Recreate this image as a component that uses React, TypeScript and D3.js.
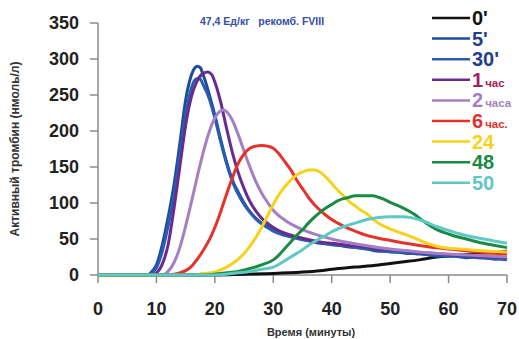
import { useEffect, useRef } from "react";
import * as d3 from "d3";

// [minute, nmol/l]
const s0 = [[0, 0], [20, 0], [25, 1], [30, 2], [35, 4], [38, 6], [40, 8], [44, 11], [48, 14], [50, 16], [52, 18], [55, 21], [58, 25], [61, 27], [64, 29], [67, 31], [70, 33]];
const s5 = [[0, 0], [8.5, 0], [9, 3], [10, 14], [11, 42], [12, 80], [13, 125], [14, 182], [15, 243], [16, 278], [16.5, 287], [17, 290], [17.5, 288], [18, 278], [19, 252], [20, 222], [21, 188], [22, 157], [23, 132], [24, 115], [25, 100], [26, 88], [27, 79], [28, 72], [29, 67], [30, 62], [32, 56], [35, 50], [38, 44], [40, 43], [43, 39], [45, 38], [48, 33], [50, 33], [53, 30], [55, 30], [58, 26], [60, 27], [63, 24], [65, 25], [68, 22], [70, 24]];
const s30 = [[0, 0], [8.7, 0], [9, 2], [10, 10], [11, 33], [12, 68], [13, 110], [14, 165], [15, 223], [16, 260], [16.5, 270], [17, 273], [17.5, 272], [18, 264], [19, 246], [20, 218], [21, 185], [22, 155], [23, 130], [24, 112], [25, 98], [26, 87], [27, 78], [28, 71], [29, 66], [30, 61], [32, 55], [35, 49], [38, 45], [40, 42], [43, 40], [45, 37], [48, 35], [50, 32], [53, 31], [55, 29], [58, 28], [60, 26], [63, 26], [65, 24], [68, 23], [70, 21]];
const s1h = [[0, 0], [9, 0], [10, 3], [11, 15], [12, 42], [13, 92], [14, 150], [15, 208], [16, 248], [17, 270], [18, 280], [18.8, 282], [19.5, 278], [20, 268], [21, 240], [22, 204], [23, 170], [24, 142], [25, 120], [26, 102], [27, 89], [28, 79], [30, 66], [32, 58], [35, 51], [38, 46], [40, 44], [43, 41], [45, 40], [48, 36], [50, 35], [53, 33], [55, 31], [58, 30], [60, 28], [63, 27], [65, 26], [68, 25], [70, 24]];
const s2h = [[0, 0], [11, 0], [12, 5], [13, 17], [14, 38], [15, 68], [16, 102], [17, 137], [18, 170], [19, 198], [20, 218], [21, 228], [21.5, 229], [22, 227], [23, 215], [24, 195], [25, 172], [26, 150], [27, 130], [28, 114], [29, 101], [30, 90], [32, 76], [35, 63], [40, 50], [45, 42], [50, 36], [55, 32], [60, 29], [65, 27], [70, 25]];
const s6h = [[0, 0], [12, 0], [13, 1], [14, 3], [15, 6], [16, 12], [17, 22], [18, 34], [19, 48], [20, 66], [21, 88], [22, 112], [23, 135], [24, 155], [25, 168], [26, 176], [27, 179], [28, 180], [29, 179], [30, 176], [31, 168], [32, 157], [33, 146], [34, 132], [35, 120], [36, 108], [37, 98], [38, 90], [39, 83], [40, 77], [42, 68], [44, 61], [46, 55], [48, 51], [50, 48], [55, 41], [60, 36], [65, 32], [70, 29]];
const s24 = [[0, 0], [16, 0], [18, 2], [20, 4], [21, 7], [22, 11], [23, 16], [24, 22], [25, 30], [26, 40], [27, 52], [28, 66], [29, 82], [30, 98], [31, 112], [32, 123], [33, 132], [34, 139], [35, 143], [36, 146], [37, 146], [38, 143], [39, 136], [40, 127], [41, 118], [42, 110], [43, 102], [44, 96], [45, 90], [46, 85], [47, 78], [48, 72], [50, 64], [52, 58], [54, 52], [56, 45], [58, 40], [60, 37], [62, 36], [65, 34], [70, 32]];
const s48 = [[0, 0], [18, 0], [20, 1], [22, 3], [24, 5], [26, 9], [28, 14], [30, 21], [31, 28], [32, 37], [33, 46], [34, 55], [35, 63], [36, 72], [37, 80], [38, 87], [39, 93], [40, 98], [41, 103], [42, 106], [43, 108], [44, 110], [45, 110], [46, 110], [47, 110], [48, 108], [49, 105], [50, 101], [52, 94], [54, 85], [56, 73], [58, 63], [60, 57], [62, 52], [64, 48], [66, 44], [68, 41], [70, 38]];
const s50 = [[0, 0], [20, 0], [22, 1], [24, 3], [26, 5], [28, 8], [30, 11], [31, 15], [32, 20], [33, 25], [34, 30], [35, 35], [36, 41], [37, 46], [38, 51], [39, 55], [40, 60], [42, 67], [44, 72], [46, 77], [48, 80], [50, 81], [52, 81], [54, 79], [56, 74], [58, 67], [60, 62], [62, 57], [64, 53], [66, 50], [68, 47], [70, 44]];

const series = [
    { key: "0'", data: s0, color: "#111111", text: "#111111", num: "0'", unit: "" },
    { key: "5'", data: s5, color: "#1d4c9e", text: "#223f8c", num: "5'", unit: "" },
    { key: "30'", data: s30, color: "#2a5db0", text: "#223f8c", num: "30'", unit: "" },
    { key: "1", data: s1h, color: "#6a2b8f", text: "#a3205a", num: "1", unit: "час" },
    { key: "2", data: s2h, color: "#a57fc3", text: "#a57fc3", num: "2", unit: "часа" },
    { key: "6", data: s6h, color: "#e5322b", text: "#e3302d", num: "6", unit: "час." },
    { key: "24", data: s24, color: "#f6d21c", text: "#f6d21c", num: "24", unit: "" },
    { key: "48", data: s48, color: "#1b8a43", text: "#1b8a43", num: "48", unit: "" },
    { key: "50", data: s50, color: "#5ec8c6", text: "#5ec8c6", num: "50", unit: "" },
];

const xTicks = [0, 10, 20, 30, 40, 50, 60, 70];
const yTicks = [0, 50, 100, 150, 200, 250, 300, 350];

export default function App() {
    const svgRef = useRef<SVGSVGElement | null>(null);

    useEffect(() => {
        const svg = d3.select(svgRef.current);
        svg.selectAll("*").remove();

        const width = 519;
        const height = 339;
        const left = 98, right = 507, top = 23, bottom = 275;

        const x = d3.scaleLinear().domain([0, 70]).range([left, right]);
        const y = d3.scaleLinear().domain([0, 350]).range([bottom, top]);

        svg.attr("width", width).attr("height", height);

        const axisColor = "#8a8a8a";
        const font = "Arial, 'Liberation Sans', sans-serif";

        // axes
        svg.append("line")
            .attr("x1", left).attr("x2", left)
            .attr("y1", top).attr("y2", bottom)
            .attr("stroke", axisColor).attr("stroke-width", 1.5);
        svg.append("line")
            .attr("x1", left).attr("x2", right)
            .attr("y1", bottom).attr("y2", bottom)
            .attr("stroke", axisColor).attr("stroke-width", 1.5);

        svg.selectAll(".ytick")
            .data(yTicks)
            .join("line")
            .attr("x1", left - 8).attr("x2", left)
            .attr("y1", d => y(d)).attr("y2", d => y(d))
            .attr("stroke", axisColor).attr("stroke-width", 1.5);

        svg.selectAll(".ylab")
            .data(yTicks)
            .join("text")
            .attr("x", 79)
            .attr("y", d => y(d))
            .attr("dy", "0.36em")
            .attr("text-anchor", "end")
            .attr("font-family", font)
            .attr("font-weight", "bold")
            .attr("font-size", 18)
            .attr("fill", "#222")
            .text(d => d);

        svg.selectAll(".xtick")
            .data(xTicks)
            .join("line")
            .attr("x1", d => x(d)).attr("x2", d => x(d))
            .attr("y1", bottom).attr("y2", bottom + 8)
            .attr("stroke", axisColor).attr("stroke-width", 1.5);

        svg.selectAll(".xlab")
            .data(xTicks)
            .join("text")
            .attr("x", d => x(d))
            .attr("y", 315)
            .attr("text-anchor", "middle")
            .attr("font-family", font)
            .attr("font-weight", "bold")
            .attr("font-size", 18)
            .attr("fill", "#222")
            .text(d => d);

        svg.append("text")
            .attr("x", 311).attr("y", 336)
            .attr("text-anchor", "middle")
            .attr("font-family", font)
            .attr("font-weight", "bold")
            .attr("font-size", 11)
            .attr("fill", "#333")
            .text("Время (минуты)");

        svg.append("text")
            .attr("transform", "translate(19,149) rotate(-90)")
            .attr("text-anchor", "middle")
            .attr("font-family", font)
            .attr("font-weight", "bold")
            .attr("font-size", 12)
            .attr("fill", "#333")
            .text("Активный тромбин (нмоль/л)");

        svg.append("text")
            .attr("x", 200).attr("y", 25)
            .attr("font-family", font)
            .attr("font-weight", "bold")
            .attr("font-size", 10.5)
            .attr("fill", "#3550a6")
            .attr("xml:space", "preserve")
            .text("47,4 Ед/кг   рекомб. FVIII");

        // curves
        const line = d3.line<number[]>()
            .x(d => x(d[0]))
            .y(d => y(d[1]))
            .curve(d3.curveMonotoneX);

        svg.selectAll(".curve")
            .data(series)
            .join("path")
            .attr("d", d => line(d.data))
            .attr("fill", "none")
            .attr("stroke", d => d.color)
            .attr("stroke-width", 3)
            .attr("stroke-linejoin", "round");

        // legend
        const leg = svg.append("g");
        const rows = leg.selectAll("g")
            .data(series)
            .join("g")
            .attr("transform", (d, i) => `translate(0,${25 + i * 20.6})`);

        rows.append("line")
            .attr("x1", 432).attr("x2", 470)
            .attr("y1", -7).attr("y2", -7)
            .attr("stroke", d => d.color)
            .attr("stroke-width", 2.5);

        const txt = rows.append("text")
            .attr("x", 472)
            .attr("y", 0)
            .attr("font-family", font)
            .attr("font-weight", "bold")
            .attr("fill", d => d.text);
        txt.append("tspan")
            .attr("font-size", 20)
            .text(d => d.num);
        txt.append("tspan")
            .attr("font-size", 11.5)
            .attr("dx", 2)
            .text(d => d.unit);
    }, []);

    return (
        <svg ref={svgRef} style={{ position: "absolute", left: 0, top: 0, background: "#fff" }} />
    );
}
